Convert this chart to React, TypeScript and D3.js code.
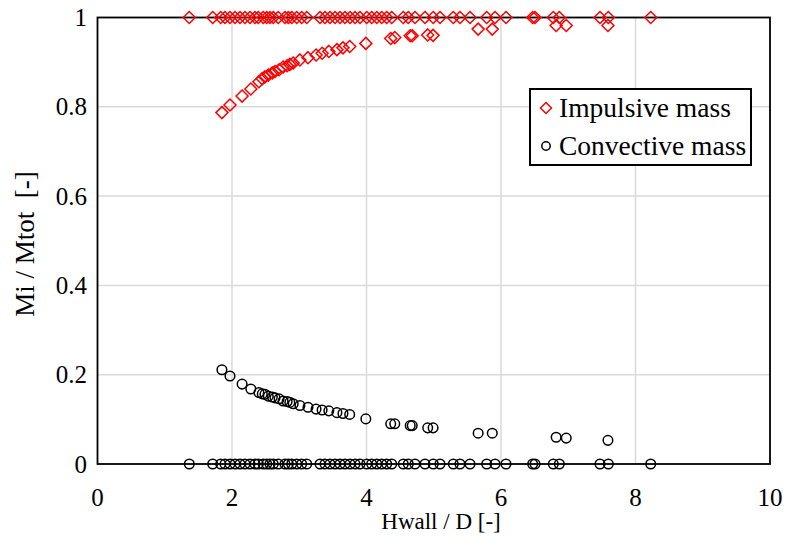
import React from "react";
import * as d3 from "d3";

// H/D values where impulsive mass = 1 and convective mass = 0
const flatX = [1.365, 1.713, 1.832, 1.896, 1.97, 2.045, 2.119, 2.193, 2.268, 2.342, 2.391, 2.465, 2.516, 2.565, 2.614, 2.688, 2.788, 2.837, 2.888, 2.962, 3.036, 3.111, 3.309, 3.383, 3.457, 3.532, 3.606, 3.68, 3.755, 3.829, 3.903, 4.003, 4.077, 4.152, 4.226, 4.3, 4.375, 4.547, 4.621, 4.721, 4.87, 4.993, 5.093, 5.291, 5.39, 5.539, 5.787, 5.911, 6.074, 6.471, 6.506, 6.778, 6.867, 7.472, 7.596, 8.226];

// H/D values on the curves
const curveX = [1.85, 1.97, 2.15, 2.28, 2.4, 2.45, 2.49, 2.54, 2.6, 2.64, 2.7, 2.76, 2.82, 2.86, 2.91, 3.01, 3.13, 3.25, 3.34, 3.44, 3.56, 3.65, 3.75, 3.99, 4.36, 4.42, 4.65, 4.68, 4.91, 4.99, 5.66, 5.87, 6.82, 6.97, 7.59];

const impulsiveY = [0.787, 0.804, 0.824, 0.84, 0.856, 0.863, 0.867, 0.871, 0.876, 0.879, 0.883, 0.889, 0.892, 0.895, 0.898, 0.905, 0.91, 0.916, 0.92, 0.924, 0.928, 0.932, 0.935, 0.942, 0.953, 0.955, 0.959, 0.959, 0.961, 0.96, 0.974, 0.974, 0.982, 0.982, 0.982];

const convectiveY = [0.211, 0.197, 0.179, 0.168, 0.16, 0.157, 0.156, 0.152, 0.15, 0.148, 0.146, 0.141, 0.14, 0.138, 0.135, 0.131, 0.127, 0.123, 0.121, 0.119, 0.115, 0.113, 0.111, 0.101, 0.09, 0.09, 0.086, 0.086, 0.081, 0.081, 0.069, 0.069, 0.06, 0.058, 0.053];

const xTicks = [0, 2, 4, 6, 8, 10];
const yTicks = [0, 0.2, 0.4, 0.6, 0.8, 1];
const seriesNames = ["Impulsive mass", "Convective mass"];

const W = 788;
const H = 542;
const left = 97.5, right = 770, top = 17.5, bottom = 464;
const FONT = "'Liberation Serif', 'Times New Roman', serif";

export default function App() {
  const x = d3.scaleLinear().domain([0, 10]).range([left, right]);
  const y = d3.scaleLinear().domain([0, 1]).range([bottom, top]);

  const impPts: [number, number][] = [
    ...flatX.map((v) => [v, 1] as [number, number]),
    ...curveX.map((v, i) => [v, impulsiveY[i]] as [number, number]),
  ];
  const convPts: [number, number][] = [
    ...flatX.map((v) => [v, 0] as [number, number]),
    ...curveX.map((v, i) => [v, convectiveY[i]] as [number, number]),
  ];

  const diamond = (cx: number, cy: number, r: number) =>
    `M${cx},${cy - r}L${cx + r},${cy}L${cx},${cy + r}L${cx - r},${cy}Z`;

  return (
    <svg width={W} height={H} style={{ position: "absolute", left: 0, top: 0, background: "#fff" }}>
      {/* grid */}
      {xTicks.filter((t) => t > 0 && t < 10).map((t) => (
        <line key={"gx" + t} x1={x(t)} x2={x(t)} y1={top} y2={bottom} stroke="#d9d9d9" strokeWidth={1.5} />
      ))}
      {yTicks.filter((t) => t > 0 && t < 1).map((t) => (
        <line key={"gy" + t} x1={left} x2={right} y1={y(t)} y2={y(t)} stroke="#d9d9d9" strokeWidth={1.5} />
      ))}
      {/* frame */}
      <rect x={left} y={top} width={right - left} height={bottom - top} fill="none" stroke="#000" strokeWidth={1.8} />

      {/* points */}
      {convPts.map(([a, b], i) => (
        <circle key={"c" + i} cx={x(a)} cy={y(b)} r={4.8} fill="none" stroke="#000" strokeWidth={1.5} />
      ))}
      {impPts.map(([a, b], i) => (
        <path key={"d" + i} d={diamond(x(a), y(b), 6)} fill="none" stroke="#ff0000" strokeWidth={1.5} />
      ))}

      {/* tick labels */}
      {xTicks.map((t) => (
        <text key={"tx" + t} x={x(t)} y={506} textAnchor="middle" fontFamily={FONT} fontSize={25} fill="#000">
          {d3.format("d")(t)}
        </text>
      ))}
      {yTicks.map((t) => (
        <text key={"ty" + t} x={87} y={y(t) + 8.5} textAnchor="end" fontFamily={FONT} fontSize={25} fill="#000">
          {t === 0 || t === 1 ? String(t) : t.toFixed(1)}
        </text>
      ))}

      {/* axis titles */}
      <text x={441} y={529} textAnchor="middle" fontFamily={FONT} fontSize={23} fill="#000">
        Hwall / D [-]
      </text>
      <text
        transform={`translate(34, 244) rotate(-90)`}
        textAnchor="middle"
        fontFamily={FONT}
        fontSize={27}
        fill="#000"
        style={{ whiteSpace: "pre" }}
      >
        {"Mi / Mtot  [-]"}
      </text>

      {/* legend */}
      <rect x={530} y={89} width={221} height={76} fill="#fff" stroke="#000" strokeWidth={2} />
      <path d={diamond(546, 108, 5.5)} fill="none" stroke="#ff0000" strokeWidth={1.5} />
      <text x={559} y={117} fontFamily={FONT} fontSize={27.5} fill="#000">{seriesNames[0]}</text>
      <circle cx={546} cy={146} r={4.2} fill="none" stroke="#000" strokeWidth={1.5} />
      <text x={559} y={155} fontFamily={FONT} fontSize={27.5} fill="#000">{seriesNames[1]}</text>
    </svg>
  );
}
